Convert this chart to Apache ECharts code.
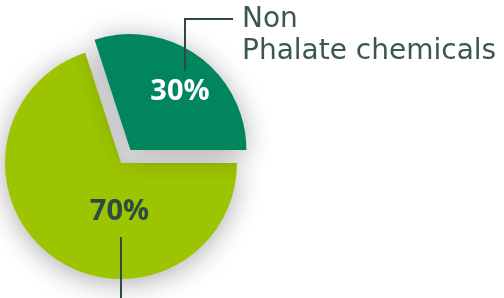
<!DOCTYPE html>
<html><head><meta charset="utf-8">
<script src="https://cdn.jsdelivr.net/npm/echarts@6/dist/echarts.min.js"></script>
<style>html,body{margin:0;padding:0;background:#fff}#c{width:504px;height:298px}</style>
</head><body><div id="c"></div>
<script>
// ---- data ----
const categories = ['Phalate chemicals', 'Non\nPhalate chemicals'];
const values = [70, 30];
const sliceColors = ['#9cc400', '#00855f'];
const pctColors = ['#2d4a44', '#ffffff'];
const explodedIndex = 1;

// ---- layout ----
const CX = 121, CY = 163, R = 116;
const lineColor = '#2d4a44';
// percent label positions relative to the pie centre
const pctPos = [[-1.5, 49], [59, -71]];

const chart = echarts.init(document.getElementById('c'), null, {renderer: 'canvas'});
const total = values.reduce((a, b) => a + b, 0);

const data = categories.map((n, i) => ({
  name: n,
  value: values[i],
  selected: i === explodedIndex,
  itemStyle: {color: sliceColors[i]}
}));

const pctTexts = values.map((v, i) => ({
  type: 'text', silent: true, z: 10,
  x: CX + pctPos[i][0], y: CY + pctPos[i][1],
  style: {
    text: Math.round(v / total * 100) + '%',
    fill: pctColors[i],
    font: '700 29px "Open Sans"',
    textAlign: 'center',
    textVerticalAlign: 'middle'
  }
}));

const option = {
  animation: false,
  backgroundColor: '#ffffff',
  series: [{
    type: 'pie',
    center: [CX, CY],
    radius: R,
    startAngle: 0,
    clockwise: true,
    selectedMode: 'single',
    selectedOffset: 16,
    emphasis: {disabled: true},
    itemStyle: {
      shadowBlur: 28,
      shadowColor: 'rgba(0,0,0,0.33)',
      shadowOffsetX: 0,
      shadowOffsetY: 4
    },
    label: {show: false},
    labelLine: {show: false},
    data: data
  }],
  graphic: pctTexts.concat([
    {
      type: 'polyline', silent: true, z: 10,
      shape: {points: [[CX + 64, CY - 92], [CX + 64, CY - 144], [CX + 112, CY - 144]]},
      style: {stroke: lineColor, lineWidth: 2, fill: null}
    },
    {
      type: 'polyline', silent: true, z: 10,
      shape: {points: [[CX, CY + 74], [CX, CY + 140]]},
      style: {stroke: lineColor, lineWidth: 2, fill: null}
    },
    {
      type: 'text', silent: true, z: 10,
      x: CX + 121, y: CY - 159,
      style: {
        text: categories[explodedIndex],
        fill: '#3a5750',
        font: '400 28px "DejaVu Sans"',
        lineHeight: 32,
        textAlign: 'left',
        textVerticalAlign: 'top'
      }
    }
  ])
};
chart.setOption(option);
</script>
</body></html>
